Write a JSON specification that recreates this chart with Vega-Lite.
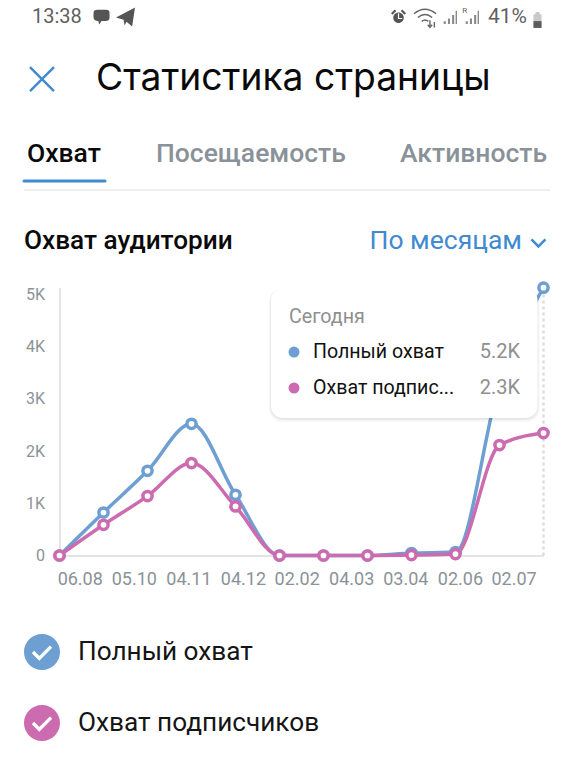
{"$schema":"https://vega.github.io/schema/vega-lite/v6.json","autosize":{"type":"none"},"width":484,"height":268,"padding":{"left":59.5,"top":287.5,"right":30.5,"bottom":209.5},"background":"white","view":{"stroke":null},"config":{"font":"Roboto","text":{"font":"Roboto","baseline":"middle","align":"left"}},
"datasets":{"reach":[
{"x":0,"series":"Полный охват","y":0},{"x":1,"series":"Полный охват","y":824},{"x":2,"series":"Полный охват","y":1622},{"x":3,"series":"Полный охват","y":2523},{"x":4,"series":"Полный охват","y":1163},{"x":5,"series":"Полный охват","y":0},{"x":6,"series":"Полный охват","y":0},{"x":7,"series":"Полный охват","y":0},{"x":8,"series":"Полный охват","y":46},{"x":9,"series":"Полный охват","y":65},{"x":10,"series":"Полный охват","y":3300},{"x":11,"series":"Полный охват","y":5130},
{"x":0,"series":"Охват подписчиков","y":0},{"x":1,"series":"Охват подписчиков","y":588},{"x":2,"series":"Охват подписчиков","y":1138},{"x":3,"series":"Охват подписчиков","y":1770},{"x":4,"series":"Охват подписчиков","y":939},{"x":5,"series":"Охват подписчиков","y":0},{"x":6,"series":"Охват подписчиков","y":0},{"x":7,"series":"Охват подписчиков","y":0},{"x":8,"series":"Охват подписчиков","y":8},{"x":9,"series":"Охват подписчиков","y":27},{"x":10,"series":"Охват подписчиков","y":2115},{"x":11,"series":"Охват подписчиков","y":2345}]},
"encoding":{"x":{"field":"x","type":"quantitative","scale":{"domain":[0,11]},"axis":{"title":null,"values":[0.46,1.69,2.93,4.17,5.39,6.63,7.86,9.1,10.32],"labelExpr":"['06.08','05.10','04.11','04.12','02.02','04.03','03.04','02.06','02.07'][indexof([0.46,1.69,2.93,4.17,5.39,6.63,7.86,9.1,10.32],datum.value)]","grid":false,"ticks":false,"domainColor":"#dddddd","domainWidth":1.5,"labelColor":"#8b9298","labelFontSize":18,"labelFont":"Roboto","labelPadding":15,"labelOverlap":false,"labelFlush":false}},
"y":{"field":"y","type":"quantitative","scale":{"domain":[0,5134]},"axis":{"title":null,"values":[0,1000,2000,3000,4000,5000],"labelExpr":"datum.value==0?'0':(datum.value/1000)+'K'","grid":false,"ticks":false,"domainColor":"#dddddd","domainWidth":1.5,"labelColor":"#8b9298","labelFontSize":16,"labelFont":"Roboto","labelPadding":15}}},
"layer":[
{"data":{"values":[{"x":11,"y":0,"y2":5134}]},"mark":{"type":"rule","color":"#dcdcdc","strokeWidth":2.5,"strokeDash":[3,3]},"encoding":{"y2":{"field":"y2"}}},
{"data":{"name":"reach"},"mark":{"type":"line","interpolate":"monotone","strokeWidth":3.5},"encoding":{"color":{"field":"series","type":"nominal","scale":{"domain":["Полный охват","Охват подписчиков"],"range":["#6e9fd2","#cc6bb0"]},"legend":{"title":null,"orient":"none","legendX":-35.5,"legendY":346.5,"symbolType":"M-1,0A1,1 0 1 1 1,0A1,1 0 1 1 -1,0ZM-0.567,0.067L-0.15,0.484L0.567,-0.233L0.433,-0.367L-0.15,0.216L-0.433,-0.067Z","symbolSize":1296,"symbolStrokeWidth":0,"symbolOpacity":1,"symbolFillColor":"#888888","labelFont":"Roboto","labelFontSize":26.2,"labelColor":"#151515","labelOffset":18,"rowPadding":35,"padding":0,"labelLimit":400}}}},
{"data":{"name":"reach"},"mark":{"type":"point","filled":false,"fill":"white","opacity":1,"strokeWidth":3.5,"size":85},"encoding":{"color":{"field":"series","type":"nominal"}}},
{"data":{"values":[{"x":4.76,"x2":10.91,"y":5115,"y2":2560},{"x":4.78,"x2":10.89,"y":5120,"y2":2590},{"x":4.8,"x2":10.87,"y":5125,"y2":2610}]},"mark":{"type":"rect","color":"black","opacity":0.035,"cornerRadius":13},"encoding":{"x2":{"field":"x2"},"y2":{"field":"y2"}}},
{"data":{"values":[{"x":4.807,"x2":10.864,"y":5125,"y2":2634}]},"mark":{"type":"rect","color":"white","cornerRadius":12},"encoding":{"x2":{"field":"x2"},"y2":{"field":"y2"}}},
{"data":{"values":[{"x":5.33,"y":3898,"series":"Полный охват"},{"x":5.33,"y":3209,"series":"Охват подписчиков"}]},"mark":{"type":"point","filled":true,"opacity":1,"size":121},"encoding":{"color":{"field":"series","type":"nominal"}}},
{"data":{"values":[{"x":5.216,"y":4570,"t":"Сегодня"}]},"mark":{"type":"text","fontSize":19.7,"color":"#8f8f8f"},"encoding":{"text":{"field":"t"}}},
{"data":{"values":[{"x":5.761,"y":3898,"t":"Полный охват"},{"x":5.761,"y":3209,"t":"Охват подпис..."}]},"mark":{"type":"text","fontSize":19.6,"color":"#111111"},"encoding":{"text":{"field":"t"}}},
{"data":{"values":[{"x":10.466,"y":3898,"t":"5.2K"},{"x":10.466,"y":3209,"t":"2.3K"}]},"mark":{"type":"text","fontSize":20,"color":"#8f8f8f","align":"right"},"encoding":{"text":{"field":"t"}}},
{"data":{"values":[{"x":0.83,"y":9128,"t":"Статистика страницы"}]},"mark":{"type":"text","font":"Inter","fontSize":37.2,"color":"#0a0a0a"},"encoding":{"text":{"field":"t"}}},
{"data":{"values":[{"x":-0.739,"y":7692,"t":"Охват"}]},"mark":{"type":"text","fontSize":26.5,"fontWeight":500,"color":"#0a0a0a"},"encoding":{"text":{"field":"t"}}},
{"data":{"values":[{"x":2.193,"y":7692,"t":"Посещаемость"},{"x":7.739,"y":7692,"t":"Активность"}]},"mark":{"type":"text","fontSize":26.5,"fontWeight":500,"color":"#8a9299"},"encoding":{"text":{"field":"t"}}},
{"data":{"values":[{"x":-0.807,"y":6025,"t":"Охват аудитории"}]},"mark":{"type":"text","fontSize":26.2,"fontWeight":500,"color":"#0a0a0a"},"encoding":{"text":{"field":"t"}}},
{"data":{"values":[{"x":7.045,"y":6025,"t":"По месяцам"}]},"mark":{"type":"text","fontSize":26.5,"color":"#3f8ad0"},"encoding":{"text":{"field":"t"}}},
{"data":{"values":[{"x":-0.625,"y":10316,"t":"13:38"}]},"mark":{"type":"text","fontSize":20,"color":"#5f5f5f"},"encoding":{"text":{"field":"t"}}},
{"data":{"values":[{"x":9.739,"y":10316,"t":"41%"}]},"mark":{"type":"text","fontSize":21,"color":"#5f5f5f"},"encoding":{"text":{"field":"t"}}},
{"data":{"values":[{"x":-0.807,"x2":11.148,"y":7002}]},"mark":{"type":"rule","color":"#e6e8ea","strokeWidth":1.5},"encoding":{"x2":{"field":"x2"}}},
{"data":{"values":[{"x":-0.807,"x2":1.034,"y":7174}]},"mark":{"type":"rule","color":"#3f8ad0","strokeWidth":3,"strokeCap":"round"},"encoding":{"x2":{"field":"x2"}}},
{"data":{"values":[{"x":-0.398,"y":9128}]},"mark":{"type":"point","shape":"M-1,-1L1,1M-1,1L1,-1","size":576,"filled":false,"stroke":"#3f8ad0","strokeWidth":2.5,"opacity":1},"encoding":{}},
{"data":{"values":[{"x":10.885,"y":5987}]},"mark":{"type":"point","shape":"M-1,-0.5L0,0.5L1,-0.5","size":196,"filled":false,"stroke":"#3f8ad0","strokeWidth":2.5,"opacity":1},"encoding":{}},
{"data":{"values":[{"x":0.955,"y":10316}]},"mark":{"type":"point","shape":"M-1,-0.5Q-1,-0.9 -0.5,-0.9L0.6,-0.9Q1,-0.9 1,-0.5L1,0.1Q1,0.5 0.5,0.5L0,0.5L-0.3,0.95L-0.4,0.5Q-1,0.5 -1,0Z","size":256,"filled":true,"color":"#555555","opacity":1},"encoding":{}},
{"data":{"values":[{"x":1.5,"y":10316}]},"mark":{"type":"point","shape":"M1,-1L0.7,1L0.1,0.5L-0.1,0.9L-0.2,0.3L-1,0.05Z","size":361,"filled":true,"color":"#555555","opacity":1},"encoding":{}},
{"data":{"values":[{"x":7.705,"y":10316}]},"mark":{"type":"point","shape":"M-0.7,0.1A0.7,0.7 0 1 1 0.7,0.1A0.7,0.7 0 1 1 -0.7,0.1ZM-1,-0.5L-0.5,-1L-0.3,-0.8L-0.8,-0.3ZM1,-0.5L0.5,-1L0.3,-0.8L0.8,-0.3Z","size":225,"filled":true,"color":"#555555","opacity":1},"encoding":{}},
{"data":{"values":[{"x":7.705,"y":10316}]},"mark":{"type":"point","shape":"M0,-0.5L0,0.2L0.5,0.2","size":225,"filled":false,"stroke":"white","strokeWidth":1.2,"opacity":1},"encoding":{}},
{"data":{"values":[{"x":8.307,"y":10316}]},"mark":{"type":"point","shape":"M-1,-0.3Q0,-1.1 1,-0.3M-0.65,0.05Q0,-0.5 0.65,0.05M-0.3,0.4Q0,0.15 0.3,0.4M0.45,0.3L0.45,0.95M0.25,0.7L0.45,0.95L0.65,0.7M0.85,0.95L0.85,0.45","size":484,"filled":false,"stroke":"#666666","strokeWidth":1.4,"opacity":1},"encoding":{}},
{"data":{"values":[{"x":8.875,"y":10316},{"x":9.375,"y":10316}]},"mark":{"type":"point","shape":"M-0.9,1L-0.9,0.6L-0.6,0.6L-0.6,1ZM-0.3,1L-0.3,0.2L0,0.2L0,1ZM0.3,1L0.3,-0.3L0.6,-0.3L0.6,1ZM0.8,1L0.8,-0.9L1,-0.9L1,1Z","size":196,"filled":true,"color":"#8a8a8a","opacity":1},"encoding":{}},
{"data":{"values":[{"x":9.21,"y":10430,"t":"R"}]},"mark":{"type":"text","fontSize":8,"color":"#666666","align":"center"},"encoding":{"text":{"field":"t"}}},
{"data":{"values":[{"x":10.864,"y":10260}]},"mark":{"type":"point","shape":"M-0.5,-0.7L-0.25,-0.7L-0.25,-1L0.25,-1L0.25,-0.7L0.5,-0.7L0.5,1L-0.5,1Z","size":256,"filled":true,"color":"#c9c9c9","opacity":1},"encoding":{}},
{"data":{"values":[{"x":10.864,"y":10260}]},"mark":{"type":"point","shape":"M-0.5,0.15L0.5,0.15L0.5,1L-0.5,1Z","size":256,"filled":true,"color":"#5c5c5c","opacity":1},"encoding":{}}
]}
